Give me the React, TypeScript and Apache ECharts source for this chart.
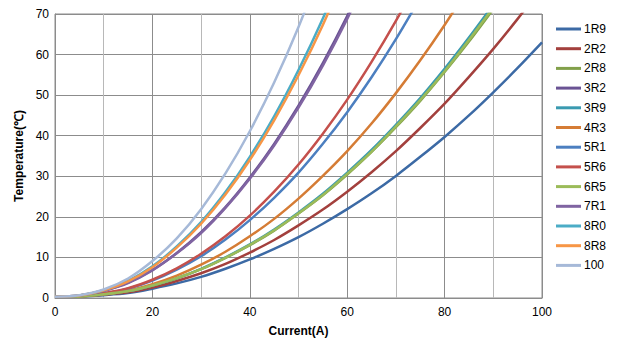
import React, { useEffect, useRef } from "react";
import * as echarts from "echarts";

const currents = [0, 5, 10, 15, 20, 25, 30, 35, 40, 45, 50, 55, 60, 65, 70, 75, 80, 85, 90, 95, 100];

const names = ["1R9", "2R2", "2R8", "3R2", "3R9", "4R3", "5R1", "5R6", "6R5", "7R1", "8R0", "8R8", "100"];

const colors = [
  "#3C6AA5", "#A3403D", "#82A04A", "#6A5394", "#3A9AB0", "#D57C35", "#4C7FC0",
  "#C4504C", "#9BBB59", "#8064A2", "#4BACC6", "#F79646", "#A6B9D8",
];

const t1R9 = [0.3, 0.4, 0.7, 1.2, 2.3, 3.6, 5.2, 7.2, 9.5, 12.1, 15.0, 18.3, 21.9, 25.8, 30.1, 34.8, 39.7, 45.0, 50.7, 56.7, 63.0];
const t2R2 = [0.3, 0.4, 0.8, 1.4, 2.6, 4.2, 6.1, 8.4, 11.2, 14.3, 17.9, 21.8, 26.2, 31.0, 36.2, 41.9, 47.9, 54.5, 61.4, 68.8, 76.6];
const t2R8 = [0.3, 0.4, 0.9, 1.7, 3.1, 4.8, 7.1, 9.9, 13.0, 16.6, 20.8, 25.3, 30.4, 36.0, 42.1, 48.6, 55.7, 63.2, 71.2];
const t3R2 = [0.3, 0.6, 1.8, 3.8, 6.9, 11.1, 16.2, 22.4, 29.7, 38.0, 47.4, 57.9, 69.5, 82.3];
const t3R9 = [0.3, 0.4, 0.9, 1.7, 3.1, 4.9, 7.2, 10.0, 13.2, 16.9, 21.1, 25.7, 30.9, 36.5, 42.7, 49.3, 56.5, 64.2, 72.3];
const t4R3 = [0.3, 0.4, 0.9, 1.8, 3.4, 5.5, 8.2, 11.4, 15.2, 19.5, 24.5, 30.1, 36.2, 43.0, 50.5, 58.6, 67.3, 76.6];
const t5R1 = [0.3, 0.5, 1.1, 2.3, 4.3, 7.0, 10.3, 14.4, 19.2, 24.7, 30.9, 38.0, 45.8, 54.4, 63.8, 74.0];
const t5R6 = [0.3, 0.5, 1.2, 2.4, 4.5, 7.3, 10.9, 15.2, 20.3, 26.2, 32.9, 40.5, 48.9, 58.2, 68.3, 79.3];
const t6R5 = [0.3, 0.4, 0.9, 1.7, 3.1, 4.9, 7.1, 9.9, 13.1, 16.7, 20.9, 25.4, 30.6, 36.1, 42.3, 48.8, 55.9, 63.6, 71.6];
const t7R1 = [0.3, 0.6, 1.8, 3.7, 6.8, 11.0, 16.0, 22.2, 29.4, 37.6, 46.9, 57.3, 68.8, 81.4];
const t8R0 = [0.3, 0.6, 1.9, 4.2, 7.8, 12.7, 18.7, 26.1, 34.8, 44.8, 56.2, 68.9, 83.1];
const t8R8 = [0.3, 0.6, 1.9, 4.1, 7.6, 12.4, 18.3, 25.5, 34.0, 43.8, 54.9, 67.3, 81.2];
const t100 = [0.3, 0.7, 2.1, 4.8, 9.1, 14.7, 21.9, 30.7, 41.1, 53.1, 66.8, 82.2];

const seriesValues = [t1R9, t2R2, t2R8, t3R2, t3R9, t4R3, t5R1, t5R6, t6R5, t7R1, t8R0, t8R8, t100];

export default function App() {
  const ref = useRef<HTMLDivElement>(null);
  useEffect(() => {
    if (!ref.current) return;
    const chart = echarts.init(ref.current, undefined, { renderer: "svg" });
    const font = "'Liberation Sans', Arial, sans-serif";
    chart.setOption({
      animation: false,
      color: colors,
      textStyle: { fontFamily: font },
      grid: {
        left: 55,
        top: 14,
        right: 85,
        bottom: 55,
        show: true,
        borderColor: "#8c8c8c",
        borderWidth: 1,
      },
      legend: {
        orient: "vertical",
        left: 551,
        top: 17,
        itemWidth: 25,
        itemHeight: 3,
        itemGap: 5.7,
        icon: "rect",
        data: names,
        textStyle: { fontSize: 12, color: "#000", fontFamily: font, lineHeight: 14, padding: [0, 0, 0, -2] },
      },
      xAxis: {
        type: "value",
        min: 0,
        max: 100,
        interval: 20,
        name: "Current(A)",
        nameLocation: "middle",
        nameGap: 27,
        nameTextStyle: { fontWeight: "bold", fontSize: 12, color: "#000", fontFamily: font },
        axisLine: { show: true, lineStyle: { color: "#8c8c8c", width: 1 } },
        axisTick: { show: false },
        axisLabel: { fontSize: 12, color: "#000", margin: 8, fontFamily: font },
        splitLine: { show: true, lineStyle: { color: "#8c8c8c", width: 1 } },
        minorTick: { show: false, splitNumber: 2 },
        minorSplitLine: { show: true, lineStyle: { color: "#b8b8b8", width: 1 } },
      },
      yAxis: {
        type: "value",
        min: 0,
        max: 70,
        interval: 10,
        name: "Temperature(℃)",
        nameLocation: "middle",
        nameGap: 28,
        nameTextStyle: { fontWeight: "bold", fontSize: 12, color: "#000", fontFamily: font },
        axisLine: { show: true, lineStyle: { color: "#8c8c8c", width: 1 } },
        axisTick: { show: false },
        axisLabel: { fontSize: 12, color: "#000", margin: 6, fontFamily: font },
        splitLine: { show: true, lineStyle: { color: "#8c8c8c", width: 1 } },
      },
      series: names.map((n, i) => ({
        name: n,
        type: "line",
        data: seriesValues[i].map((v, k) => [currents[k], v]),
        smooth: 0.3,
        showSymbol: false,
        symbol: "none",
        clip: true,
        lineStyle: { width: 2.5, color: colors[i] },
        itemStyle: { color: colors[i] },
      })),
    });
    return () => chart.dispose();
  }, []);
  return <div ref={ref} style={{ width: 627, height: 353, margin: -8 }} />;
}
